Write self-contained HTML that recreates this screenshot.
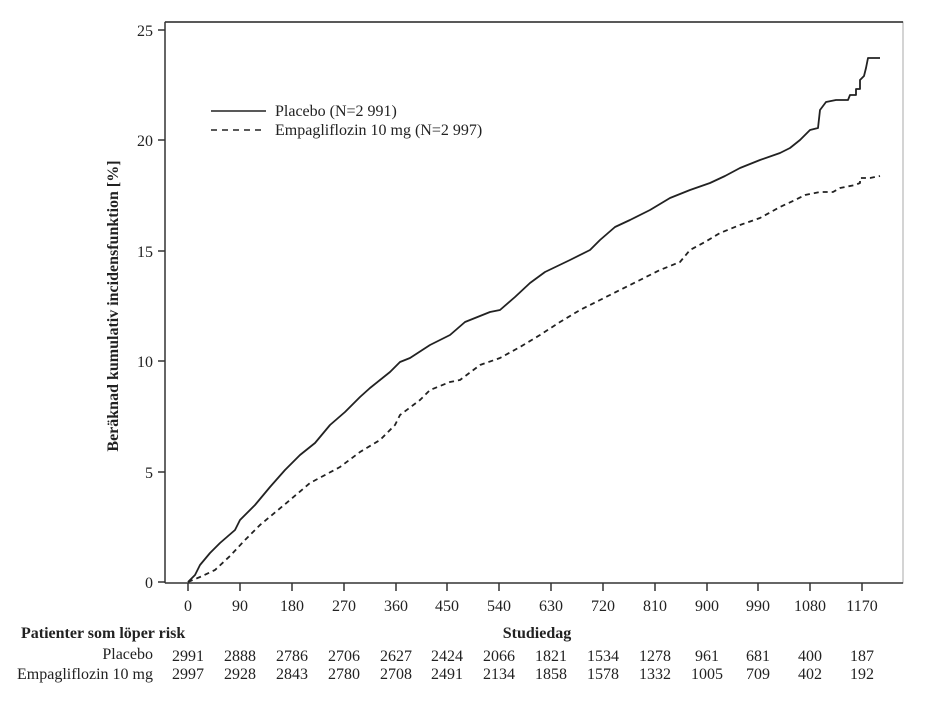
<!DOCTYPE html>
<html><head><meta charset="utf-8"><style>
body{margin:0;background:#fff;}
svg{display:block;font-family:"Liberation Serif",serif;}
</style></head><body>
<svg width="930" height="705" xmlns="http://www.w3.org/2000/svg">
<rect x="165" y="22" width="738" height="561" fill="none" stroke="#aaa" stroke-width="1"/>
<line x1="165" y1="22" x2="903" y2="22" stroke="#222" stroke-width="1.5"/>
<line x1="165" y1="22" x2="165" y2="583" stroke="#333" stroke-width="1.5"/>
<line x1="165" y1="583" x2="903" y2="583" stroke="#333" stroke-width="1.5"/>
<g stroke="#333" stroke-width="1.5">
<line x1="158" y1="30" x2="165" y2="30"/><line x1="158" y1="140" x2="165" y2="140"/><line x1="158" y1="251" x2="165" y2="251"/><line x1="158" y1="361" x2="165" y2="361"/><line x1="158" y1="472" x2="165" y2="472"/><line x1="158" y1="582" x2="165" y2="582"/>
<line x1="188" y1="583" x2="188" y2="591"/><line x1="240" y1="583" x2="240" y2="591"/><line x1="292" y1="583" x2="292" y2="591"/><line x1="344" y1="583" x2="344" y2="591"/><line x1="396" y1="583" x2="396" y2="591"/><line x1="447" y1="583" x2="447" y2="591"/><line x1="499" y1="583" x2="499" y2="591"/><line x1="551" y1="583" x2="551" y2="591"/><line x1="603" y1="583" x2="603" y2="591"/><line x1="655" y1="583" x2="655" y2="591"/><line x1="707" y1="583" x2="707" y2="591"/><line x1="758" y1="583" x2="758" y2="591"/><line x1="810" y1="583" x2="810" y2="591"/><line x1="862" y1="583" x2="862" y2="591"/>
</g>
<g font-size="16" fill="#222" text-anchor="end">
<text x="153" y="36">25</text><text x="153" y="146">20</text><text x="153" y="257">15</text><text x="153" y="367">10</text><text x="153" y="478">5</text><text x="153" y="588">0</text>
</g>
<g font-size="16" fill="#222" text-anchor="middle">
<text x="188" y="611">0</text><text x="240" y="611">90</text><text x="292" y="611">180</text><text x="344" y="611">270</text><text x="396" y="611">360</text><text x="447" y="611">450</text><text x="499" y="611">540</text><text x="551" y="611">630</text><text x="603" y="611">720</text><text x="655" y="611">810</text><text x="707" y="611">900</text><text x="758" y="611">990</text><text x="810" y="611">1080</text><text x="862" y="611">1170</text>
</g>
<text x="118" y="306" font-size="16" font-weight="bold" fill="#222" text-anchor="middle" transform="rotate(-90 118 306)">Beräknad kumulativ incidensfunktion [%]</text>
<text x="537" y="638" font-size="16" font-weight="bold" fill="#222" text-anchor="middle">Studiedag</text>
<text x="21" y="638" font-size="16" font-weight="bold" fill="#222">Patienter som löper risk</text>
<text x="153" y="659" font-size="16" fill="#222" text-anchor="end">Placebo</text>
<text x="153" y="679" font-size="16" fill="#222" text-anchor="end">Empagliflozin 10 mg</text>
<g font-size="16" fill="#222" text-anchor="middle">
<text x="188" y="661">2991</text><text x="240" y="661">2888</text><text x="292" y="661">2786</text><text x="344" y="661">2706</text><text x="396" y="661">2627</text><text x="447" y="661">2424</text><text x="499" y="661">2066</text><text x="551" y="661">1821</text><text x="603" y="661">1534</text><text x="655" y="661">1278</text><text x="707" y="661">961</text><text x="758" y="661">681</text><text x="810" y="661">400</text><text x="862" y="661">187</text>
<text x="188" y="679">2997</text><text x="240" y="679">2928</text><text x="292" y="679">2843</text><text x="344" y="679">2780</text><text x="396" y="679">2708</text><text x="447" y="679">2491</text><text x="499" y="679">2134</text><text x="551" y="679">1858</text><text x="603" y="679">1578</text><text x="655" y="679">1332</text><text x="707" y="679">1005</text><text x="758" y="679">709</text><text x="810" y="679">402</text><text x="862" y="679">192</text>
</g>
<line x1="211" y1="111" x2="266" y2="111" stroke="#222" stroke-width="1.5"/>
<line x1="211" y1="130" x2="266" y2="130" stroke="#222" stroke-width="1.5" stroke-dasharray="6,5"/>
<text x="275" y="116" font-size="16" fill="#222">Placebo (N=2 991)</text>
<text x="275" y="135" font-size="16" fill="#222">Empagliflozin 10 mg (N=2 997)</text>
<polyline fill="none" stroke="#222" stroke-width="1.8" stroke-linejoin="round" points="188,582 195,575 200,565 210,553 220,543 235,530 240,520 255,505 270,487 285,470 300,455 315,443 330,425 345,412 360,397 370,388 380,380 390,372 400,362 410,358 430,345 450,335 465,322 490,312 500,310 515,297 530,283 545,272 570,260 590,250 600,240 615,227 630,220 650,210 670,198 690,190 710,183 725,176 740,168 760,160 780,153 790,148 800,140 810,130 818,128 820,110 826,102 836,100 848,100 850,95 856,95 856,89 860,89 860,80 864,76 866,68 868,58 880,58"/>
<polyline fill="none" stroke="#222" stroke-width="1.8" stroke-dasharray="5,4" stroke-linejoin="round" points="188,582 200,577 215,570 230,556 245,540 260,525 290,500 310,483 340,467 360,452 380,440 395,425 400,415 420,400 430,390 450,382 460,380 480,365 500,358 520,347 540,335 560,322 580,310 600,300 620,290 640,280 660,270 680,262 690,250 705,242 720,233 740,225 760,218 780,207 795,200 805,195 820,192 833,192 840,188 855,185 860,183 860,178 870,178 880,176"/>
</svg>
</body></html>
